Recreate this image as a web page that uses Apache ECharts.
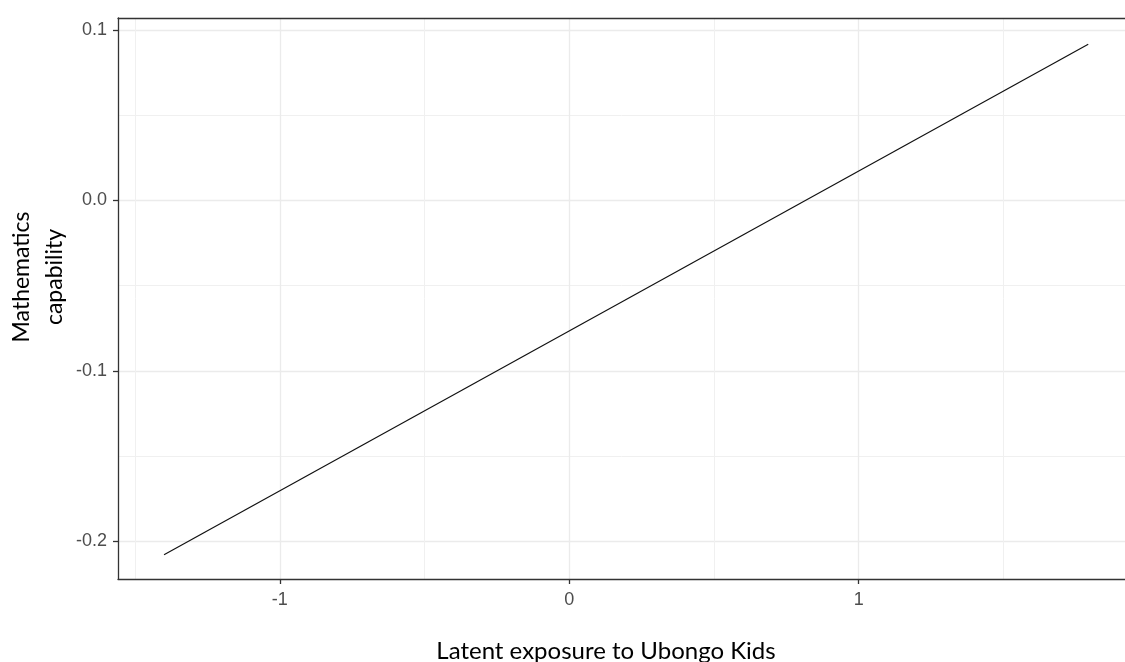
<!DOCTYPE html>
<html>
<head>
<meta charset="utf-8">
<script src="https://cdn.jsdelivr.net/npm/echarts@6/dist/echarts.min.js"></script>
<style>
  html, body { margin: 0; padding: 0; background: #ffffff; }
  #chart { width: 1125px; height: 662px; }
</style>
</head>
<body>
<div id="chart"></div>
<script>
// Fitted relationship: exposure (x) vs predicted mathematics capability (y)
const exposure = [-1.40, 1.793];
const capability = [-0.2079, 0.0915];

// Axis breaks
const xMajor = [-1, 0, 1];
const xMinor = [-1.5, -0.5, 0.5, 1.5];
const yMajor = [-0.2, -0.1, 0.0, 0.1];
const yMinor = [-0.15, -0.05, 0.05];

const xRange = [-1.559, 1.920];
const yRange = [-0.2221, 0.1069];

const chart = echarts.init(document.getElementById('chart'), null, { renderer: 'canvas' });

const tickFont = { color: '#4d4d4d', fontSize: 18, fontFamily: 'Liberation Sans, Arial, sans-serif' };
const borderStyle = { color: '#333333', width: 1.3 };
const majorGrid = { color: '#ebebeb', width: 1.3 };
const minorGrid = { color: '#f0f0f0', width: 1 };

chart.setOption({
  animation: false,
  backgroundColor: '#ffffff',
  grid: { left: 118, top: 18, right: -2, bottom: 83, containLabel: false },
  xAxis: [
    {
      type: 'value', min: xRange[0], max: xRange[1], position: 'bottom',
      axisLine: { show: true, onZero: false, lineStyle: borderStyle },
      axisTick: { show: true, length: 5, customValues: xMajor, lineStyle: borderStyle },
      axisLabel: { customValues: xMajor, margin: 12, formatter: v => String(Math.round(v)), ...tickFont },
      splitLine: { show: true, lineStyle: majorGrid }
    },
    {
      type: 'value', min: xRange[0], max: xRange[1], position: 'top',
      axisLine: { show: true, onZero: false, lineStyle: borderStyle },
      axisTick: { show: false, customValues: xMinor },
      axisLabel: { show: false },
      splitLine: { show: true, lineStyle: minorGrid }
    }
  ],
  yAxis: [
    {
      type: 'value', min: yRange[0], max: yRange[1], position: 'left',
      axisLine: { show: true, onZero: false, lineStyle: borderStyle },
      axisTick: { show: true, length: 5, customValues: yMajor, lineStyle: borderStyle },
      axisLabel: { customValues: yMajor, margin: 11, formatter: v => v.toFixed(1), ...tickFont },
      splitLine: { show: true, lineStyle: majorGrid }
    },
    {
      type: 'value', min: yRange[0], max: yRange[1], position: 'right',
      axisLine: { show: false },
      axisTick: { show: false, customValues: yMinor },
      axisLabel: { show: false },
      splitLine: { show: true, lineStyle: minorGrid }
    }
  ],
  series: [
    {
      type: 'line',
      xAxisIndex: 0, yAxisIndex: 0,
      data: exposure.map((x, i) => [x, capability[i]]),
      showSymbol: false,
      lineStyle: { color: '#111111', width: 1.2 },
      z: 5
    }
  ],
  graphic: [
    {
      type: 'text',
      x: 606, y: 639,
      style: {
        text: 'Latent exposure to Ubongo Kids',
        fontFamily: 'Lato, Open Sans, sans-serif',
        fontSize: 24,
        fill: '#000000',
        align: 'center',
        verticalAlign: 'top'
      }
    },
    {
      type: 'text',
      x: 38, y: 277,
      rotation: Math.PI / 2,
      style: {
        text: 'Mathematics\ncapability',
        fontFamily: 'Lato, Open Sans, sans-serif',
        fontSize: 23,
        lineHeight: 33,
        fill: '#000000',
        align: 'center',
        verticalAlign: 'middle'
      }
    }
  ]
});
</script>
</body>
</html>
